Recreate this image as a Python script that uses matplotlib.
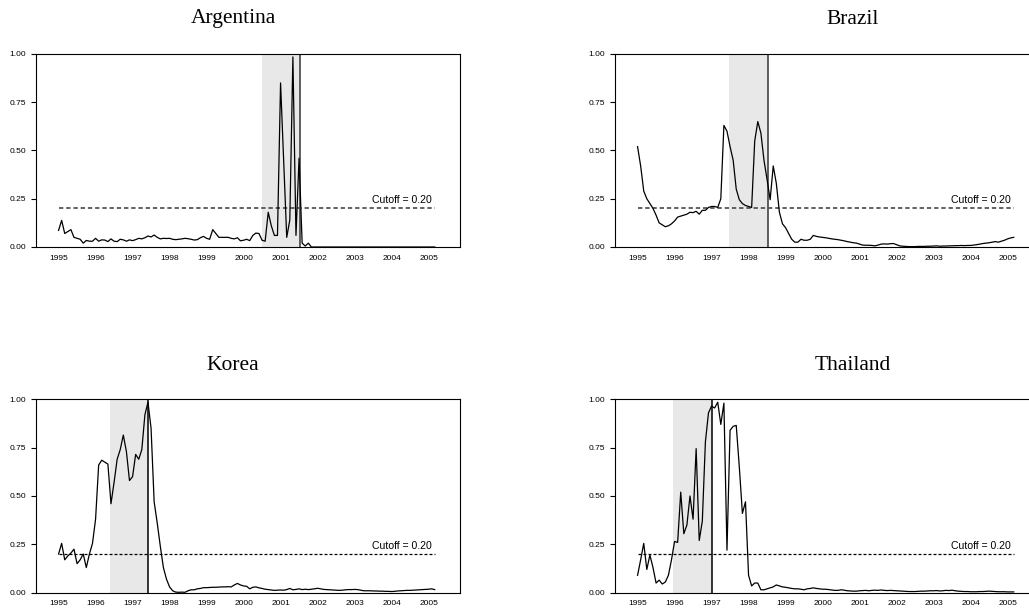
import numpy as np
import matplotlib
matplotlib.use("Agg")
import matplotlib.pyplot as plt

# monthly probabilities, Jan 1995 .. Mar 2005
start_year = 1995
argentina = [
    0.086, 0.138, 0.070, 0.080, 0.090, 0.050, 0.045, 0.040, 0.020, 0.034, 0.030, 0.030,
    0.045, 0.030, 0.037, 0.036, 0.028, 0.042, 0.030, 0.028, 0.040, 0.037, 0.030, 0.037,
    0.033, 0.038, 0.045, 0.042, 0.048, 0.057, 0.052, 0.062, 0.050, 0.042, 0.045, 0.044,
    0.045, 0.040, 0.038, 0.040, 0.042, 0.045, 0.043, 0.040, 0.036, 0.038, 0.048, 0.055,
    0.045, 0.040, 0.090, 0.070, 0.050, 0.050, 0.050, 0.050, 0.045, 0.042, 0.048, 0.032,
    0.035, 0.040, 0.033, 0.060, 0.072, 0.070, 0.035, 0.030, 0.180, 0.110, 0.060, 0.060,
    0.850, 0.450, 0.050, 0.140, 0.985, 0.060, 0.460, 0.020, 0.005, 0.020, 0.000, 0.000,
    0.000, 0.000, 0.000, 0.000, 0.000, 0.000, 0.000, 0.000, 0.000, 0.000, 0.000, 0.000,
    0.000, 0.000, 0.000, 0.000, 0.000, 0.000, 0.000, 0.000, 0.000, 0.000, 0.000, 0.000,
    0.000, 0.000, 0.000, 0.000, 0.000, 0.000, 0.000, 0.000, 0.000, 0.000, 0.000, 0.000,
    0.000, 0.000, 0.000,
]
brazil = [
    0.520, 0.420, 0.290, 0.250, 0.225, 0.200, 0.165, 0.125, 0.115, 0.105, 0.110, 0.120,
    0.135, 0.155, 0.160, 0.165, 0.170, 0.180, 0.178, 0.185, 0.170, 0.190, 0.190, 0.205,
    0.210, 0.210, 0.205, 0.250, 0.630, 0.600, 0.520, 0.450, 0.300, 0.245, 0.225, 0.215,
    0.210, 0.205, 0.550, 0.650, 0.590, 0.450, 0.350, 0.245, 0.420, 0.330, 0.180, 0.120,
    0.100, 0.070, 0.040, 0.025, 0.025, 0.040, 0.035, 0.035, 0.040, 0.060, 0.055, 0.052,
    0.050, 0.048, 0.045, 0.042, 0.040, 0.038, 0.035, 0.032, 0.028, 0.025, 0.022, 0.020,
    0.015, 0.010, 0.009, 0.009, 0.008, 0.006, 0.010, 0.015, 0.016, 0.015, 0.017, 0.018,
    0.012, 0.006, 0.004, 0.003, 0.002, 0.002, 0.002, 0.003, 0.003, 0.003, 0.004, 0.004,
    0.005, 0.006, 0.004, 0.005, 0.005, 0.006, 0.006, 0.007, 0.007, 0.008, 0.007, 0.008,
    0.008, 0.010, 0.012, 0.015, 0.018, 0.020, 0.022, 0.025, 0.028, 0.025, 0.030, 0.035,
    0.042, 0.047, 0.050,
]
korea = [
    0.200, 0.255, 0.170, 0.190, 0.205, 0.225, 0.150, 0.170, 0.200, 0.130, 0.200, 0.255,
    0.380, 0.660, 0.685, 0.675, 0.665, 0.460, 0.570, 0.690, 0.740, 0.815, 0.730, 0.580,
    0.600, 0.715, 0.690, 0.740, 0.920, 0.985, 0.850, 0.470, 0.360, 0.240, 0.130, 0.070,
    0.030, 0.010, 0.003, 0.002, 0.003, 0.002, 0.010, 0.015, 0.015, 0.020, 0.022, 0.026,
    0.026, 0.027, 0.028, 0.028, 0.029, 0.030, 0.030, 0.031, 0.030, 0.040, 0.048, 0.040,
    0.035, 0.033, 0.020, 0.028, 0.030, 0.025, 0.022, 0.018, 0.016, 0.014, 0.012, 0.013,
    0.014, 0.013, 0.016, 0.022, 0.015, 0.017, 0.020, 0.016, 0.018, 0.016, 0.018, 0.020,
    0.023, 0.020, 0.017, 0.016, 0.015, 0.014, 0.013, 0.012, 0.013, 0.015, 0.016, 0.016,
    0.017, 0.016, 0.013, 0.010, 0.010, 0.010, 0.009, 0.009, 0.008, 0.008, 0.007, 0.007,
    0.006, 0.007, 0.009, 0.010, 0.011, 0.012, 0.012, 0.013, 0.014, 0.015, 0.016, 0.017,
    0.018, 0.020, 0.016,
]
thailand = [
    0.090, 0.170, 0.255, 0.120, 0.195, 0.130, 0.050, 0.065, 0.045, 0.055, 0.090, 0.170,
    0.265, 0.260, 0.520, 0.305, 0.350, 0.500, 0.380, 0.745, 0.270, 0.370, 0.780, 0.930,
    0.965, 0.955, 0.985, 0.870, 0.980, 0.220, 0.840, 0.860, 0.865, 0.650, 0.410, 0.470,
    0.090, 0.035, 0.050, 0.050, 0.015, 0.015, 0.020, 0.025, 0.030, 0.040, 0.035, 0.030,
    0.028, 0.025, 0.022, 0.020, 0.020, 0.018, 0.015, 0.020, 0.022, 0.025, 0.022, 0.020,
    0.018, 0.018, 0.016, 0.014, 0.012, 0.012, 0.015, 0.013, 0.010, 0.009, 0.008, 0.008,
    0.010, 0.011, 0.012, 0.010, 0.012, 0.013, 0.012, 0.014, 0.012, 0.011, 0.012, 0.011,
    0.010, 0.009, 0.008, 0.007, 0.006, 0.006, 0.006, 0.007, 0.008, 0.008, 0.009, 0.010,
    0.010, 0.011, 0.009, 0.010, 0.012, 0.011, 0.013, 0.010, 0.008, 0.007, 0.006, 0.006,
    0.005, 0.005, 0.005, 0.006, 0.006, 0.007, 0.008, 0.007, 0.006, 0.005, 0.005, 0.005,
    0.004, 0.004, 0.004,
]

countries = ["Argentina", "Brazil", "Korea", "Thailand"]
series = [argentina, brazil, korea, thailand]
crisis_dates = [2001.53, 1998.53, 1997.42, 1997.01]
window_starts = [2000.50, 1997.48, 1996.38, 1995.97]
cutoff = 0.20
year_ticks = list(range(1995, 2006))
prob_ticks = [0.0, 0.25, 0.5, 0.75, 1.0]

W, H = 1029, 613
fig = plt.figure(figsize=(W / 100, H / 100), dpi=100)

# panel boxes in pixels: left, top, width, height
boxes = [(36, 54, 424, 193), (615, 54, 424, 193),
         (36, 399.3, 424, 193.4), (615, 399.3, 424, 193.4)]
title_pos = [(233, 19), (853, 19), (233, 365), (853, 365)]

for k, name in enumerate(countries):
    l, t, w, h = boxes[k]
    ax = fig.add_axes([l / W, 1 - (t + h) / H, w / W, h / H])
    y = np.array(series[k])
    x = start_year + np.arange(len(y)) / 12.0

    ax.axvspan(window_starts[k], crisis_dates[k], color="#e8e8e8", lw=0, zorder=0)
    top = k < 2
    ax.axvline(crisis_dates[k], color="#333333" if top else "black", lw=1.1, zorder=2)
    ax.plot([x[0], x[-1]], [cutoff, cutoff], color="#555555" if top else "black",
            lw=1.3 if top else 0.9, ls=(0, (2.4, 1.6)), zorder=2)
    ax.plot(x, y, color="black", lw=0.9, zorder=3)
    ax.text(x[-1] - 0.08, cutoff + 0.018, "Cutoff = 0.20", ha="right", va="bottom",
            family="Liberation Sans", fontsize=7.6)

    ax.set_xlim(1994.39, 2005.85)
    ax.set_ylim(0, 1)
    ax.set_yticks(prob_ticks)
    ax.set_yticklabels([f"{v:.2f}" for v in prob_ticks])
    ax.set_xticks(year_ticks)
    ax.set_xticklabels([str(v) for v in year_ticks])
    ax.tick_params(axis="y", length=3.6, width=0.8, pad=3.6, labelsize=6)
    ax.tick_params(axis="x", length=0, pad=5.5, labelsize=6)
    for lab in ax.get_xticklabels() + ax.get_yticklabels():
        lab.set_family("Liberation Sans")
    for sp in ax.spines.values():
        sp.set_linewidth(0.8)

    tx, ty = title_pos[k]
    fig.text(tx / W, 1 - ty / H, name, ha="center", va="center",
             family="Liberation Serif", fontsize=15.5)

fig.savefig("out.png", dpi=100)
